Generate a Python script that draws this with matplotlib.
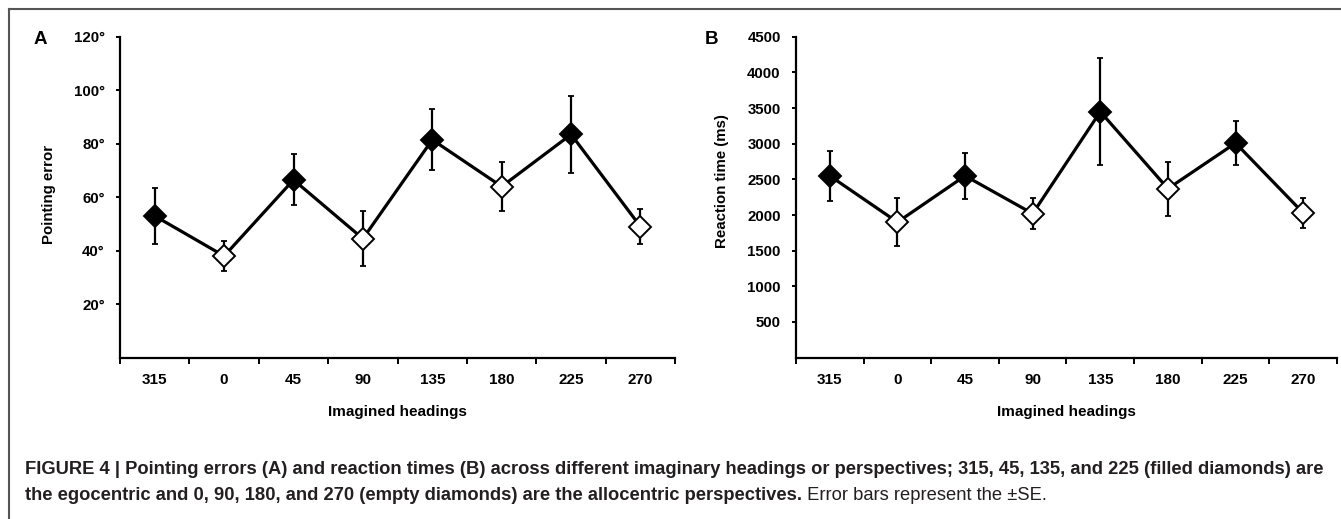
import numpy as np
import matplotlib.pyplot as plt
from matplotlib.lines import Line2D

# ------------------------------------------------------------
# Datos
# ------------------------------------------------------------
headings = ["315", "0", "45", "90", "135", "180", "225", "270"]
filled = [True, False, True, False, True, False, True, False]

pointing_error = [53, 38, 66.5, 44.5, 81.5, 64, 83.5, 49]
pointing_se = [10.5, 5.5, 9.5, 10.3, 11.5, 9, 14.5, 6.5]

reaction_time = [2550, 1900, 2550, 2020, 3450, 2370, 3010, 2030]
reaction_se = [350, 340, 320, 220, 750, 380, 310, 205]

y_ticks_a = [20, 40, 60, 80, 100, 120]
y_ticks_b = [500, 1000, 1500, 2000, 2500, 3000, 3500, 4000, 4500]

plt.rcParams["font.family"] = ["Liberation Sans", "DejaVu Sans"]

fig = plt.figure(figsize=(13.41, 5.19), dpi=100)


def draw_panel(ax, values, se, ymax, yticks, ylabel, fmt, label_y=0.5):
    x = np.arange(len(headings))
    ax.errorbar(x, values, yerr=se, fmt="none", ecolor="black",
                elinewidth=1.6, capsize=2.5, capthick=1.3, zorder=2)
    ax.plot(x, values, color="black", linewidth=2.3, zorder=3)
    for xi, v, f in zip(x, values, filled):
        ax.plot(xi, v, marker="D", markersize=11,
                markerfacecolor="black" if f else "white",
                markeredgecolor="black", markeredgewidth=1.4, zorder=4)

    ax.set_xlim(-0.5, len(headings) - 0.5)
    ax.set_ylim(0, ymax)
    for s in ["top", "right"]:
        ax.spines[s].set_visible(False)
    for s in ["left", "bottom"]:
        ax.spines[s].set_linewidth(1.6)

    # ticks mayores en los límites de categoría, etiquetas en el centro
    ax.set_xticks(np.arange(len(headings) + 1) - 0.5)
    ax.set_xticklabels([])
    ax.set_xticks(x, minor=True)
    ax.set_xticklabels(headings, minor=True, fontsize=11, fontweight="bold")
    ax.tick_params(axis="x", which="major", direction="out", length=4, width=1.4)
    ax.tick_params(axis="x", which="minor", length=0, pad=11)

    ax.set_yticks(yticks)
    ax.set_yticklabels([fmt(t) for t in yticks], fontsize=10.8,
                       fontweight="bold")
    ax.tick_params(axis="y", direction="out", length=3, width=1.4, pad=8)

    ax.set_ylabel(ylabel, fontsize=10.8, fontweight="bold", labelpad=13)
    ax.yaxis.label.set_y(label_y)
    ax.set_xlabel("Imagined headings", fontsize=11, fontweight="bold",
                  labelpad=13)


ax_a = fig.add_axes([0.0895, 0.311, 0.414, 0.618])
draw_panel(ax_a, pointing_error, pointing_se, 120, y_ticks_a,
           "Pointing error", lambda t: f"{t}°", label_y=0.51)

ax_b = fig.add_axes([0.5936, 0.311, 0.4034, 0.618])
draw_panel(ax_b, reaction_time, reaction_se, 4500, y_ticks_b,
           "Reaction time (ms)", lambda t: f"{t}", label_y=0.55)

fig.text(40 / 1341, 1 - 40 / 519, "A", fontsize=13.5, fontweight="bold",
         ha="center", va="center")
fig.text(712 / 1341, 1 - 40 / 519, "B", fontsize=13.5, fontweight="bold",
         ha="center", va="center")

# marco gris de la figura
fig.add_artist(Line2D([9 / 1341, 1], [1 - 9 / 519, 1 - 9 / 519],
                      color="#555555", linewidth=1.5, transform=fig.transFigure))
fig.add_artist(Line2D([9 / 1341, 9 / 1341], [0, 1 - 9 / 519],
                      color="#555555", linewidth=1.5, transform=fig.transFigure))

# pie de figura
cap_color = "#231f20"
line1 = ("FIGURE 4 | Pointing errors (A) and reaction times (B) across different "
         "imaginary headings or perspectives; 315, 45, 135, and 225 (filled diamonds) are")
line2 = ("the egocentric and 0, 90, 180, and 270 (empty diamonds) are the "
         "allocentric perspectives.")
fig.text(25 / 1341, 1 - 470 / 519, line1, fontsize=13.2, fontweight="bold",
         color=cap_color, va="center")
t2 = fig.text(25 / 1341, 1 - 496 / 519, line2, fontsize=13.2, fontweight="bold",
              color=cap_color, va="center")
fig.canvas.draw()
bb = t2.get_window_extent()
fig.text(bb.x1 / fig.bbox.width, 1 - 496 / 519, " Error bars represent the ±SE.",
         fontsize=13.2, color=cap_color, va="center")

fig.savefig("out.png", dpi=100)
